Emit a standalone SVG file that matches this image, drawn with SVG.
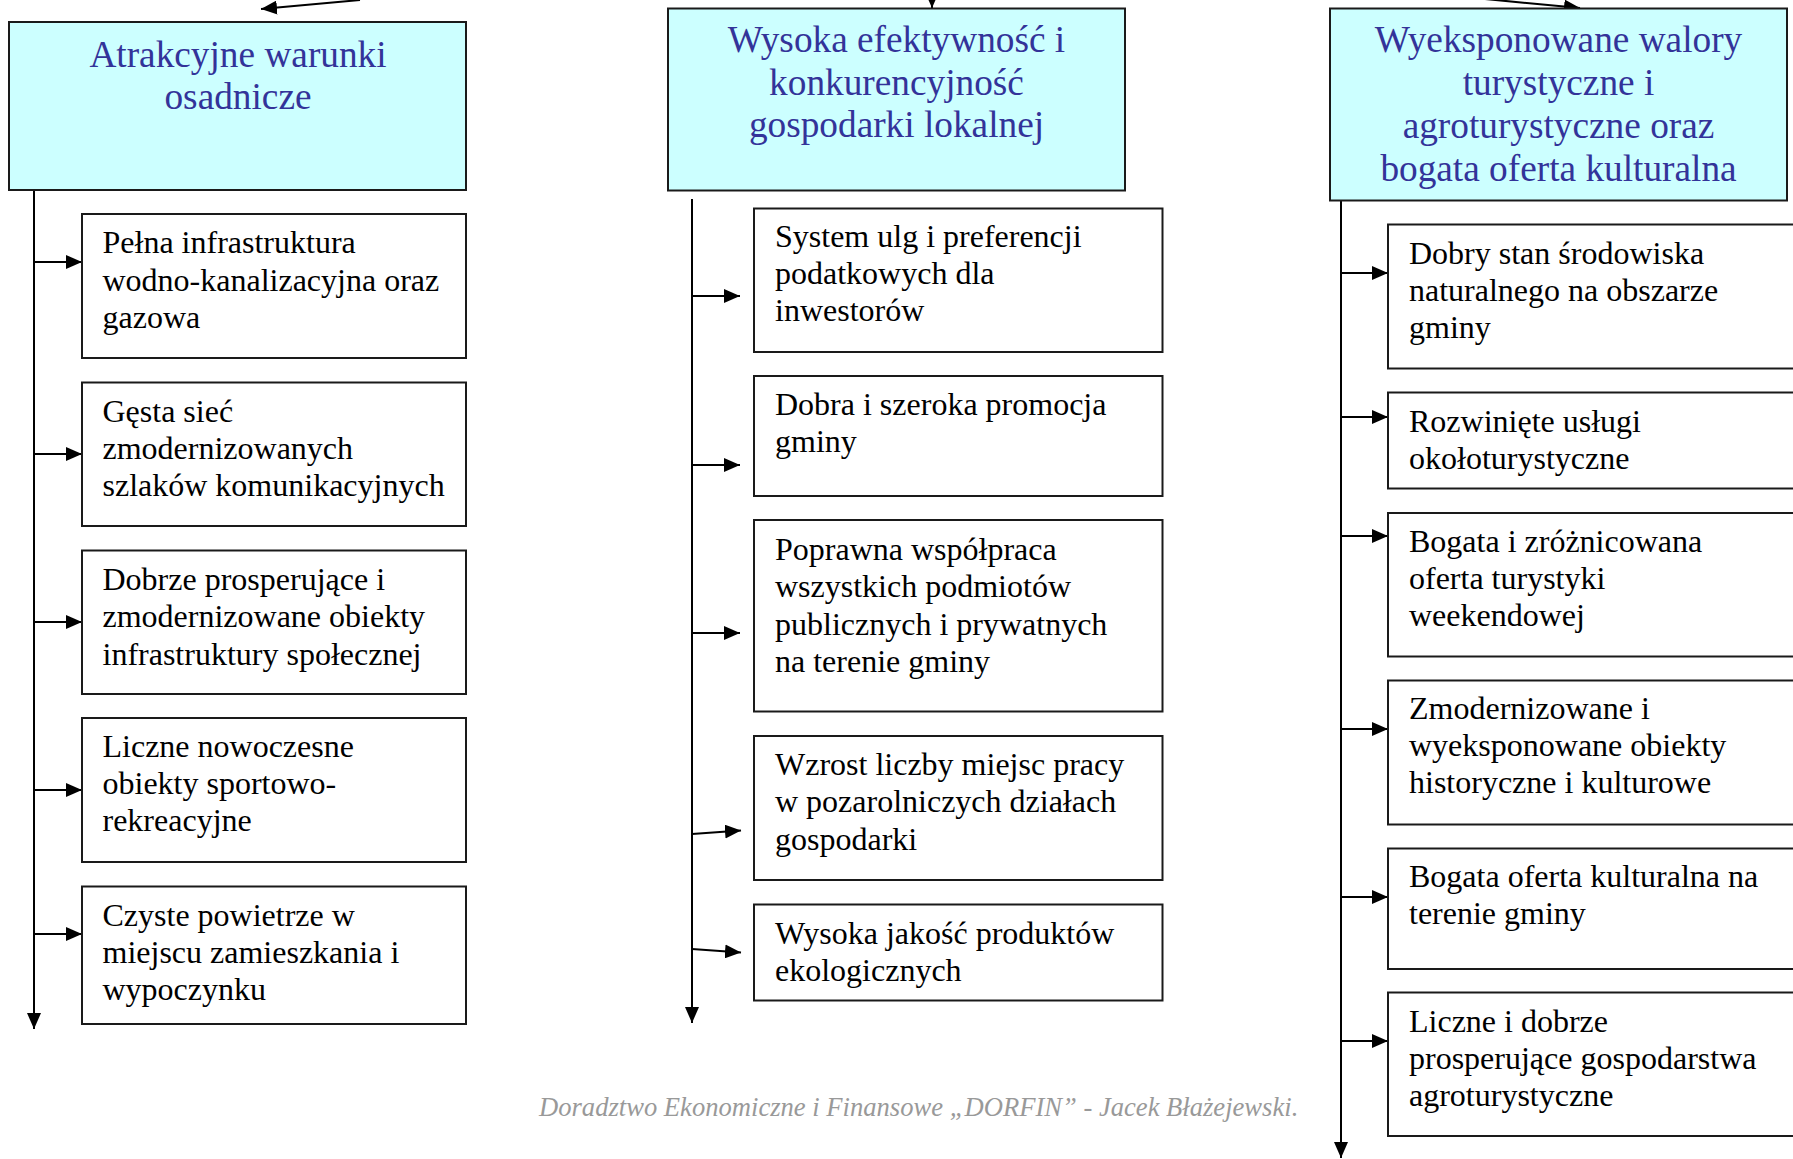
<svg xmlns="http://www.w3.org/2000/svg" width="1793" height="1159" viewBox="0 0 1793 1159">
<style>
.bg{fill:#ffffff}
.title{fill:#ccffff;stroke:#1a1a1a;stroke-width:2}
.box{fill:#ffffff;stroke:#1a1a1a;stroke-width:2}
.tt{font-family:"Liberation Serif","Times New Roman",serif;font-size:37.3px;fill:#333399;text-anchor:middle}
.bt{font-family:"Liberation Serif","Times New Roman",serif;font-size:32px;fill:#000000}
.ln{stroke:#000000;stroke-width:2;fill:none}
.ar{stroke:#000000;stroke-width:2;fill:none;marker-end:url(#ah)}
.foot{font-family:"Liberation Serif","Times New Roman",serif;font-style:italic;font-size:26.6px;fill:#999999}
</style>
<defs>
<marker id="ah" markerUnits="userSpaceOnUse" markerWidth="16" markerHeight="14" refX="16" refY="7" orient="auto">
<path d="M0,0 L16,7 L0,14 z" fill="#000000"/>
</marker>
</defs>
<rect class="bg" x="0" y="0" width="1793" height="1159"/>

<g id="connectors">
<line class="ar" x1="360" y1="0" x2="261" y2="9"/>
<line class="ar" x1="932" y1="-10" x2="932" y2="8"/>
<line class="ar" x1="1485" y1="-1" x2="1580" y2="8"/>

<line class="ar" x1="34" y1="190" x2="34" y2="1029"/>
<line class="ar" x1="34" y1="262" x2="82" y2="262"/>
<line class="ar" x1="34" y1="454" x2="82" y2="454"/>
<line class="ar" x1="34" y1="622" x2="82" y2="622"/>
<line class="ar" x1="34" y1="790" x2="82" y2="790"/>
<line class="ar" x1="34" y1="934" x2="82" y2="934"/>

<line class="ar" x1="692" y1="199" x2="692" y2="1023"/>
<line class="ar" x1="692" y1="296" x2="740" y2="296"/>
<line class="ar" x1="692" y1="465" x2="740" y2="465"/>
<line class="ar" x1="692" y1="633" x2="740" y2="633"/>
<line class="ar" x1="692" y1="834" x2="741" y2="830.5"/>
<line class="ar" x1="692" y1="949" x2="741" y2="952.5"/>

<line class="ar" x1="1341" y1="200" x2="1341" y2="1158"/>
<line class="ar" x1="1341" y1="273" x2="1388" y2="273"/>
<line class="ar" x1="1341" y1="417" x2="1388" y2="417"/>
<line class="ar" x1="1341" y1="536" x2="1388" y2="536"/>
<line class="ar" x1="1341" y1="729" x2="1388" y2="729"/>
<line class="ar" x1="1341" y1="897" x2="1388" y2="897"/>
<line class="ar" x1="1341" y1="1041" x2="1388" y2="1041"/>
</g>

<g id="n-col1-title">
<rect class="title" x="9" y="22" width="457" height="168"/>
<text class="tt"><tspan x="238" y="67">Atrakcyjne warunki</tspan><tspan x="238" y="109">osadnicze</tspan></text>
</g>
<g id="n-col1-1">
<rect class="box" x="82" y="214" width="384" height="144"/>
<text class="bt"><tspan x="102.5" y="253.3">Pełna infrastruktura</tspan><tspan x="102.5" y="290.5">wodno-kanalizacyjna oraz</tspan><tspan x="102.5" y="327.7">gazowa</tspan></text>
</g>
<g id="n-col1-2">
<rect class="box" x="82" y="382.5" width="384" height="143.5"/>
<text class="bt"><tspan x="102.5" y="421.8">Gęsta sieć</tspan><tspan x="102.5" y="459">zmodernizowanych</tspan><tspan x="102.5" y="496.2">szlaków komunikacyjnych</tspan></text>
</g>
<g id="n-col1-3">
<rect class="box" x="82" y="550.5" width="384" height="143.5"/>
<text class="bt"><tspan x="102.5" y="590.2">Dobrze prosperujące i</tspan><tspan x="102.5" y="627.4">zmodernizowane obiekty</tspan><tspan x="102.5" y="664.6">infrastruktury społecznej</tspan></text>
</g>
<g id="n-col1-4">
<rect class="box" x="82" y="718" width="384" height="144"/>
<text class="bt"><tspan x="102.5" y="757">Liczne nowoczesne</tspan><tspan x="102.5" y="794.2">obiekty sportowo-</tspan><tspan x="102.5" y="831.4">rekreacyjne</tspan></text>
</g>
<g id="n-col1-5">
<rect class="box" x="82" y="886.5" width="384" height="137.5"/>
<text class="bt"><tspan x="102.5" y="925.5">Czyste powietrze w</tspan><tspan x="102.5" y="962.7">miejscu zamieszkania i</tspan><tspan x="102.5" y="999.9">wypoczynku</tspan></text>
</g>

<g id="n-col2-title">
<rect class="title" x="668" y="8.5" width="457" height="182"/>
<text class="tt"><tspan x="896.5" y="52">Wysoka efektywność i</tspan><tspan x="896.5" y="95">konkurencyjność</tspan><tspan x="896.5" y="137">gospodarki lokalnej</tspan></text>
</g>
<g id="n-col2-1">
<rect class="box" x="754" y="208.5" width="408.5" height="143.5"/>
<text class="bt"><tspan x="775" y="246.9">System ulg i preferencji</tspan><tspan x="775" y="284.1">podatkowych dla</tspan><tspan x="775" y="321.3">inwestorów</tspan></text>
</g>
<g id="n-col2-2">
<rect class="box" x="754" y="376" width="408.5" height="120"/>
<text class="bt"><tspan x="775" y="415.2">Dobra i szeroka promocja</tspan><tspan x="775" y="452.4">gminy</tspan></text>
</g>
<g id="n-col2-3">
<rect class="box" x="754" y="520" width="408.5" height="191.5"/>
<text class="bt"><tspan x="775" y="560.2">Poprawna współpraca</tspan><tspan x="775" y="597.4">wszystkich podmiotów</tspan><tspan x="775" y="634.6">publicznych i prywatnych</tspan><tspan x="775" y="671.8">na terenie gminy</tspan></text>
</g>
<g id="n-col2-4">
<rect class="box" x="754" y="736" width="408.5" height="144"/>
<text class="bt"><tspan x="775" y="775.2">Wzrost liczby miejsc pracy</tspan><tspan x="775" y="812.4">w pozarolniczych działach</tspan><tspan x="775" y="849.6">gospodarki</tspan></text>
</g>
<g id="n-col2-5">
<rect class="box" x="754" y="904.5" width="408.5" height="96"/>
<text class="bt"><tspan x="775" y="943.5">Wysoka jakość produktów</tspan><tspan x="775" y="980.7">ekologicznych</tspan></text>
</g>

<g id="n-col3-title">
<rect class="title" x="1330" y="8.5" width="457" height="192"/>
<text class="tt"><tspan x="1558.5" y="52">Wyeksponowane walory</tspan><tspan x="1558.5" y="95">turystyczne i</tspan><tspan x="1558.5" y="138.3">agroturystyczne oraz</tspan><tspan x="1558.5" y="181">bogata oferta kulturalna</tspan></text>
</g>
<g id="n-col3-1">
<rect class="box" x="1388" y="224.5" width="420" height="144"/>
<text class="bt"><tspan x="1409" y="263.5">Dobry stan środowiska</tspan><tspan x="1409" y="300.7">naturalnego na obszarze</tspan><tspan x="1409" y="337.9">gminy</tspan></text>
</g>
<g id="n-col3-2">
<rect class="box" x="1388" y="392.5" width="420" height="96"/>
<text class="bt"><tspan x="1409" y="432">Rozwinięte usługi</tspan><tspan x="1409" y="469.2">okołoturystyczne</tspan></text>
</g>
<g id="n-col3-3">
<rect class="box" x="1388" y="513" width="420" height="143.5"/>
<text class="bt"><tspan x="1409" y="552">Bogata i zróżnicowana</tspan><tspan x="1409" y="589.2">oferta turystyki</tspan><tspan x="1409" y="626.4">weekendowej</tspan></text>
</g>
<g id="n-col3-4">
<rect class="box" x="1388" y="680.5" width="420" height="144"/>
<text class="bt"><tspan x="1409" y="718.7">Zmodernizowane i</tspan><tspan x="1409" y="755.9">wyeksponowane obiekty</tspan><tspan x="1409" y="793.1">historyczne i kulturowe</tspan></text>
</g>
<g id="n-col3-5">
<rect class="box" x="1388" y="848.5" width="420" height="120.5"/>
<text class="bt"><tspan x="1409" y="887">Bogata oferta kulturalna na</tspan><tspan x="1409" y="924.2">terenie gminy</tspan></text>
</g>
<g id="n-col3-6">
<rect class="box" x="1388" y="992.5" width="420" height="143.5"/>
<text class="bt"><tspan x="1409" y="1031.5">Liczne i dobrze</tspan><tspan x="1409" y="1068.7">prosperujące gospodarstwa</tspan><tspan x="1409" y="1105.9">agroturystyczne</tspan></text>
</g>

<g id="footer">
<text class="foot" x="539" y="1116">Doradztwo Ekonomiczne i Finansowe „DORFIN” - Jacek Błażejewski.</text>
</g>
</svg>
